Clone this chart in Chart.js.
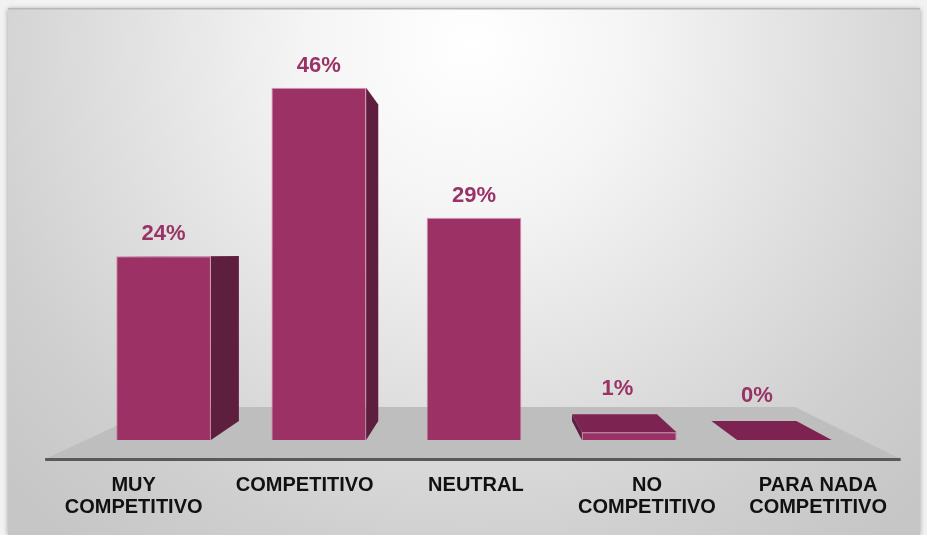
<!DOCTYPE html>
<html lang="es">
<head>
  <meta charset="UTF-8">
  <title>Competitividad</title>
  <script src="https://cdn.jsdelivr.net/npm/chart.js"></script>
  <style>
    html, body { margin: 0; padding: 0; background: #f2f2f2; }
    canvas { display: block; }
  </style>
</head>
<body>
  <canvas id="grafico" width="927" height="535"></canvas>

  <script>
    // datos
    const categorias = [['MUY', 'COMPETITIVO'], 'COMPETITIVO', 'NEUTRAL', ['NO', 'COMPETITIVO'], ['PARA NADA', 'COMPETITIVO']];
    const porcentajes = [24, 46, 29, 1, 0];

    // colores de las caras
    const COLOR_FRENTE = '#9b3164';
    const COLOR_LADO = '#5e1f3f';
    const COLOR_TAPA = '#7c2352';
    const COLOR_TEXTO = '#993366';

    // cámara: punto de fuga y profundidades relativas al plano frontal de las barras
    const FUGA = { x: 485, y: 254 };
    const FONDO_BARRA = 0.898;
    const PISO_FRENTE = 1.1025;
    const PISO_FONDO = 0.8225;

    function proyectar(x, y, k) {
      return [FUGA.x + k * (x - FUGA.x), FUGA.y + k * (y - FUGA.y)];
    }

    function poligono(ctx, puntos, color) {
      ctx.beginPath();
      ctx.moveTo(puntos[0][0], puntos[0][1]);
      for (let i = 1; i < puntos.length; i++) ctx.lineTo(puntos[i][0], puntos[i][1]);
      ctx.closePath();
      ctx.fillStyle = color;
      ctx.fill();
    }

    const escena3d = {
      id: 'escena3d',
      beforeDraw(chart) {
        const ctx = chart.ctx;
        const W = chart.width, H = chart.height;
        ctx.save();
        ctx.fillStyle = '#f2f2f2';
        ctx.fillRect(0, 0, W, H);
        // panel con sombra
        ctx.shadowColor = 'rgba(0,0,0,0.35)';
        ctx.shadowBlur = 5;
        ctx.fillStyle = '#cccccc';
        ctx.fillRect(8, 9, 912, H - 9);
        ctx.shadowColor = 'transparent';
        const g = ctx.createRadialGradient(470, 45, 0, 470, 45, 640);
        g.addColorStop(0, '#ffffff');
        g.addColorStop(0.25, '#f5f5f5');
        g.addColorStop(0.55, '#e0e0e0');
        g.addColorStop(0.8, '#cfcfcf');
        g.addColorStop(1, '#c6c6c6');
        ctx.fillStyle = g;
        ctx.fillRect(8, 9, 912, H - 9);
        ctx.fillStyle = '#b8b8b8';
        ctx.fillRect(8, 8, 912, 1.5);
        ctx.restore();
      },
      beforeDatasetsDraw(chart) {
        const ctx = chart.ctx;
        const area = chart.chartArea;
        const base = chart.scales.y.getPixelForValue(0);
        ctx.save();
        // piso
        const fi = proyectar(area.left, base, PISO_FRENTE);
        const fd = proyectar(area.right, base, PISO_FRENTE);
        const bd = proyectar(area.right, base, PISO_FONDO);
        const bi = proyectar(area.left, base, PISO_FONDO);
        poligono(ctx, [fi, fd, bd, bi], '#bebebe');
        ctx.strokeStyle = '#595959';
        ctx.lineWidth = 3;
        ctx.beginPath();
        ctx.moveTo(fi[0], fi[1] + 0.5);
        ctx.lineTo(fd[0], fd[1] + 0.5);
        ctx.stroke();

        // caras laterales y tapas
        chart.getDatasetMeta(0).data.forEach(bar => {
          const { x, y, base: b, width } = bar.getProps(['x', 'y', 'base', 'width'], true);
          const izq = x - width / 2, der = x + width / 2;
          const tI = proyectar(izq, y, FONDO_BARRA), tD = proyectar(der, y, FONDO_BARRA);
          const bI = proyectar(izq, b, FONDO_BARRA), bD = proyectar(der, b, FONDO_BARRA);
          if (der < FUGA.x) poligono(ctx, [[der, y], tD, bD, [der, b]], COLOR_LADO);
          if (izq > FUGA.x) poligono(ctx, [[izq, y], tI, bI, [izq, b]], COLOR_LADO);
          if (y > FUGA.y) poligono(ctx, [[izq, y], [der, y], tD, tI], COLOR_TAPA);
        });
        ctx.restore();
      },
      afterDatasetsDraw(chart) {
        const ctx = chart.ctx;
        const base = chart.scales.y.getPixelForValue(0);
        const piso = proyectar(0, base, PISO_FRENTE)[1];
        ctx.save();
        ctx.textAlign = 'center';
        ctx.textBaseline = 'middle';
        chart.getDatasetMeta(0).data.forEach((bar, i) => {
          const { x, y } = bar.getProps(['x', 'y'], true);
          // etiqueta de valor: sobre la cara frontal, o sobre la tapa si la barra es casi plana
          let lx = x, ly = y - 22;
          if (y > FUGA.y + 40) {
            const p = proyectar(x, y, FONDO_BARRA);
            lx = p[0] + 3;
            ly = p[1] - 25;
          }
          ctx.font = 'bold 22px "Liberation Sans", Arial, sans-serif';
          ctx.fillStyle = COLOR_TEXTO;
          ctx.fillText(porcentajes[i] + '%', lx, ly);
          // categoría
          const cx = proyectar(x, base, PISO_FRENTE)[0] + 3;
          const lineas = [].concat(chart.data.labels[i]);
          ctx.font = 'bold 20px "Liberation Sans", Arial, sans-serif';
          ctx.fillStyle = '#111111';
          lineas.forEach((t, j) => ctx.fillText(t, cx, piso + 26 + j * 22));
        });
        ctx.restore();
      }
    };

    new Chart(document.getElementById('grafico'), {
      type: 'bar',
      data: {
        labels: categorias,
        datasets: [{
          data: porcentajes,
          backgroundColor: COLOR_FRENTE,
          borderColor: 'rgba(200, 90, 140, 0.6)',
          borderWidth: 1,
          barPercentage: 0.61,
          categoryPercentage: 1
        }]
      },
      options: {
        responsive: false,
        animation: false,
        layout: { padding: { left: 86, right: 65, top: 57, bottom: 95 } },
        scales: {
          x: { display: false },
          y: { display: false, min: 0, max: 50 }
        },
        plugins: {
          legend: { display: false },
          tooltip: { enabled: false }
        }
      },
      plugins: [escena3d]
    });
  </script>
</body>
</html>
